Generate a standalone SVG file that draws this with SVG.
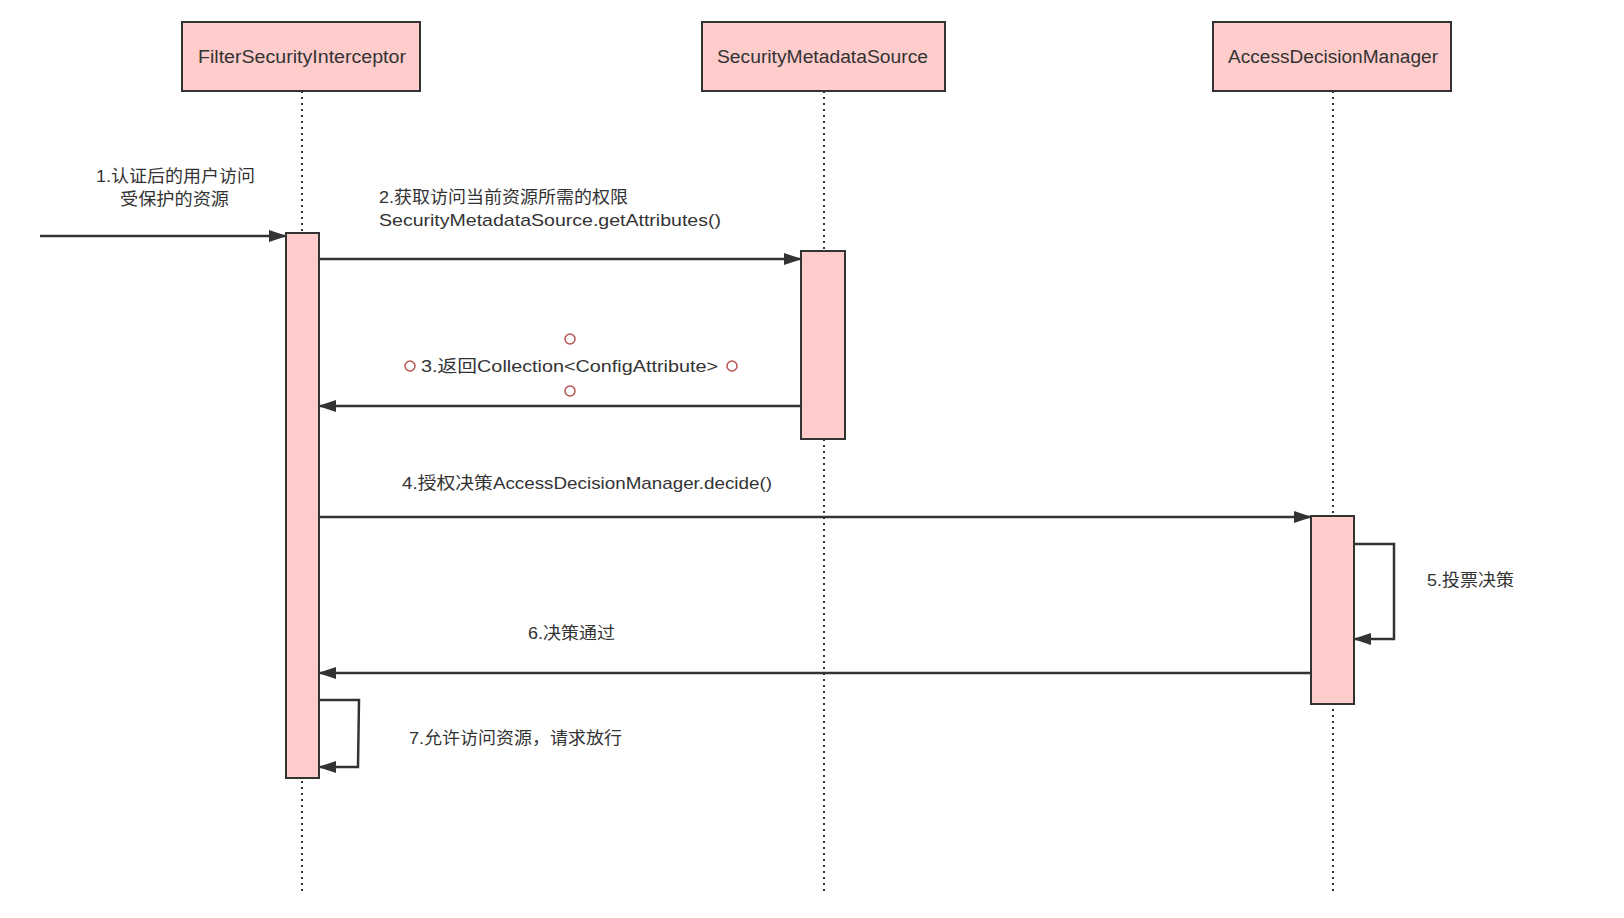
<svg xmlns="http://www.w3.org/2000/svg" width="1624" height="918" viewBox="0 0 1624 918">
<style>
.box{fill:#ffcccc;stroke:#333;stroke-width:2}
.life{stroke:#333;stroke-width:2;stroke-dasharray:2 4;fill:none}
.msg{stroke:#333;stroke-width:2.5;fill:none}
text{font-family:"Liberation Sans","Noto Sans CJK SC",sans-serif;font-size:17px;fill:#333}
.h{font-size:18px}
.c{fill:none;stroke:#b85450;stroke-width:1.5}
</style>
<defs>
<marker id="a2" markerWidth="18" markerHeight="12" refX="17" refY="6" orient="auto" markerUnits="userSpaceOnUse" viewBox="0 0 18 12">
<path d="M0,0 L18,6 L0,12 Z" fill="#333"/>
</marker>
</defs>
<rect width="1624" height="918" fill="#fff"/>
<g id="lifelines">
<line class="life" x1="302" y1="91" x2="302" y2="893"/>
<line class="life" x1="824" y1="91" x2="824" y2="893"/>
<line class="life" x1="1333" y1="91" x2="1333" y2="893"/>
</g>
<g id="FilterSecurityInterceptor">
<rect class="box" x="182" y="22" width="238" height="69"/>
<text class="h" x="198" y="63" textLength="208" lengthAdjust="spacingAndGlyphs">FilterSecurityInterceptor</text>
<rect class="box" x="286" y="233" width="33" height="545"/>
</g>
<g id="SecurityMetadataSource">
<rect class="box" x="702" y="22" width="243" height="69"/>
<text class="h" x="717" y="63" textLength="211" lengthAdjust="spacingAndGlyphs">SecurityMetadataSource</text>
<rect class="box" x="801" y="251" width="44" height="188"/>
</g>
<g id="AccessDecisionManager">
<rect class="box" x="1213" y="22" width="238" height="69"/>
<text class="h" x="1228" y="63" textLength="210" lengthAdjust="spacingAndGlyphs">AccessDecisionManager</text>
<rect class="box" x="1311" y="516" width="43" height="188"/>
</g>
<g id="connectors">
<line class="msg" x1="40" y1="236" x2="286" y2="236" marker-end="url(#a2)"/>
<line class="msg" x1="319" y1="259" x2="801" y2="259" marker-end="url(#a2)"/>
<line class="msg" x1="801" y1="406" x2="319" y2="406" marker-end="url(#a2)"/>
<line class="msg" x1="319" y1="517" x2="1311" y2="517" marker-end="url(#a2)"/>
<polyline class="msg" points="1354,544 1394,544 1394,639 1354,639" marker-end="url(#a2)"/>
<line class="msg" x1="1311" y1="673" x2="319" y2="673" marker-end="url(#a2)"/>
<polyline class="msg" points="319,700 359,700 358,767 319,767" marker-end="url(#a2)"/>
</g>
<g id="labels">
<text x="96" y="182" textLength="159" lengthAdjust="spacingAndGlyphs">1.认证后的用户访问</text>
<text x="120" y="205" textLength="109" lengthAdjust="spacingAndGlyphs">受保护的资源</text>
<text x="379" y="203" textLength="249" lengthAdjust="spacingAndGlyphs">2.获取访问当前资源所需的权限</text>
<text x="379" y="226" textLength="342" lengthAdjust="spacingAndGlyphs">SecurityMetadataSource.getAttributes()</text>
<text x="421" y="372" textLength="297" lengthAdjust="spacingAndGlyphs">3.返回Collection&lt;ConfigAttribute&gt;</text>
<circle class="c" cx="570" cy="339" r="5"/>
<circle class="c" cx="570" cy="391" r="5"/>
<circle class="c" cx="410" cy="366" r="5"/>
<circle class="c" cx="732" cy="366" r="5"/>
<text x="402" y="489" textLength="370" lengthAdjust="spacingAndGlyphs">4.授权决策AccessDecisionManager.decide()</text>
<text x="1427" y="586" textLength="87" lengthAdjust="spacingAndGlyphs">5.投票决策</text>
<text x="528" y="639" textLength="87" lengthAdjust="spacingAndGlyphs">6.决策通过</text>
<text x="409" y="744" textLength="213" lengthAdjust="spacingAndGlyphs">7.允许访问资源，请求放行</text>
</g>
</svg>
